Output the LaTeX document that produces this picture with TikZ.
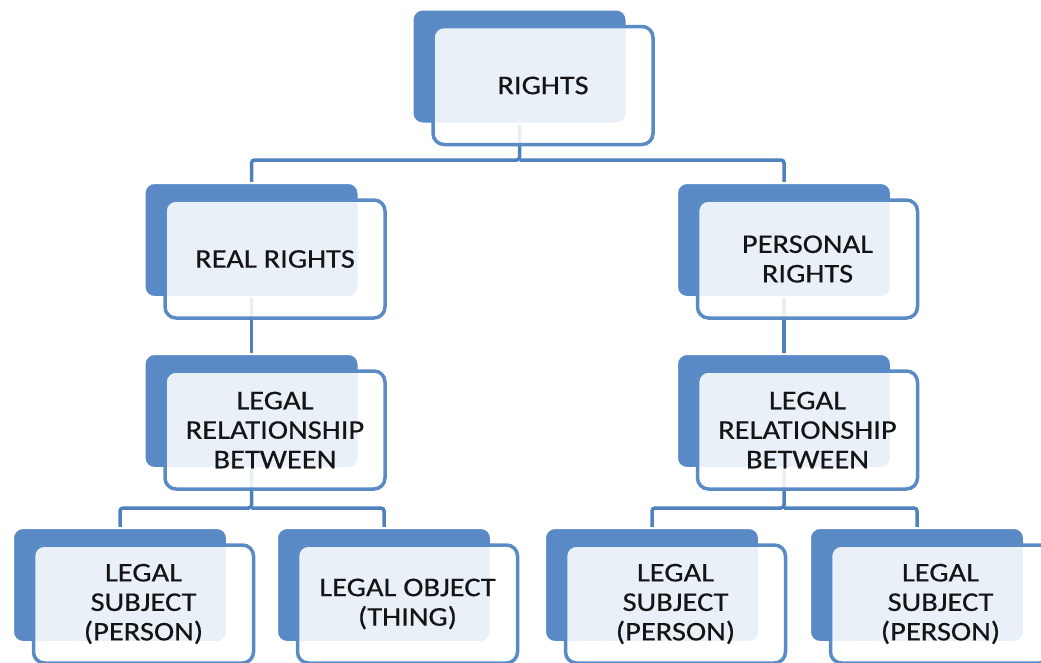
\documentclass[tikz,border=0pt]{standalone}
\usepackage{fontspec}
\setmainfont{Carlito}[FakeStretch=1.13,FakeBold=0.4]
\usetikzlibrary{backgrounds}
\definecolor{backblue}{HTML}{5A8AC6}
\definecolor{edgeblue}{HTML}{5B8BC5}
\definecolor{connblue}{HTML}{4F81BD}
\definecolor{txt}{HTML}{141414}
\tikzset{
  backbox/.style={draw=white, line width=2pt, fill=backblue, rounded corners=10pt,
    minimum width=214pt, minimum height=114pt, inner sep=0pt},
  frontbox/.style={draw=edgeblue, line width=3.5pt, fill=white, fill opacity=0.88,
    text opacity=1, rounded corners=11pt, minimum width=220pt, minimum height=118pt,
    inner sep=0pt, align=center, text=txt, font=\fontsize{27}{29.5}\selectfont},
  conn/.style={draw=connblue, line width=3.5pt, rounded corners=3pt}
}
\begin{document}
\begin{tikzpicture}[x=1pt,y=-1pt]
\useasboundingbox (0,0) rectangle (1041,662);
% back boxes
\node[backbox] (Rb) at (519.5,66.5) {};
\node[backbox] (RRb) at (251.5,240) {};
\node[backbox] (PRb) at (784,240) {};
\node[backbox] (LLb) at (251.5,411) {};
\node[backbox] (LRb) at (784,411) {};
\node[backbox] (B1b) at (120,585) {};
\node[backbox] (B2b) at (384,585) {};
\node[backbox] (B3b) at (652,585) {};
\node[backbox] (B4b) at (917,585) {};
% junctions
\coordinate (j1) at (519.5,160);
\coordinate (j2) at (251.5,508);
\coordinate (j3) at (784,508);
% connectors (behind the boxes)
\begin{scope}[on background layer]
\draw[conn] (Rb.south) -- (j1) -| (RRb.north);
\draw[conn] (j1) -| (PRb.north);
\draw[conn] (RRb.south) -- (LLb.north);
\draw[conn] (PRb.south) -- (LRb.north);
\draw[conn] (LLb.south) -- (j2) -| (B1b.north);
\draw[conn] (j2) -| (B2b.north);
\draw[conn] (LRb.south) -- (j3) -| (B3b.north);
\draw[conn] (j3) -| (B4b.north);
\end{scope}
% front boxes
\node[frontbox] (R) at (543,85.5) {RIGHTS};
\node[frontbox] (RR) at (275,259) {REAL RIGHTS};
\node[frontbox] (PR) at (807.5,259) {PERSONAL\\RIGHTS};
\node[frontbox] (LL) at (275,430) {LEGAL\\RELATIONSHIP\\BETWEEN};
\node[frontbox] (LR) at (807.5,430) {LEGAL\\RELATIONSHIP\\BETWEEN};
\node[frontbox] (B1) at (143.5,604) {LEGAL\\SUBJECT\\(PERSON)};
\node[frontbox] (B2) at (407.5,604) {LEGAL OBJECT\\(THING)};
\node[frontbox] (B3) at (675.5,604) {LEGAL\\SUBJECT\\(PERSON)};
\node[frontbox] (B4) at (940.5,604) {LEGAL\\SUBJECT\\(PERSON)};
\end{tikzpicture}
\end{document}
